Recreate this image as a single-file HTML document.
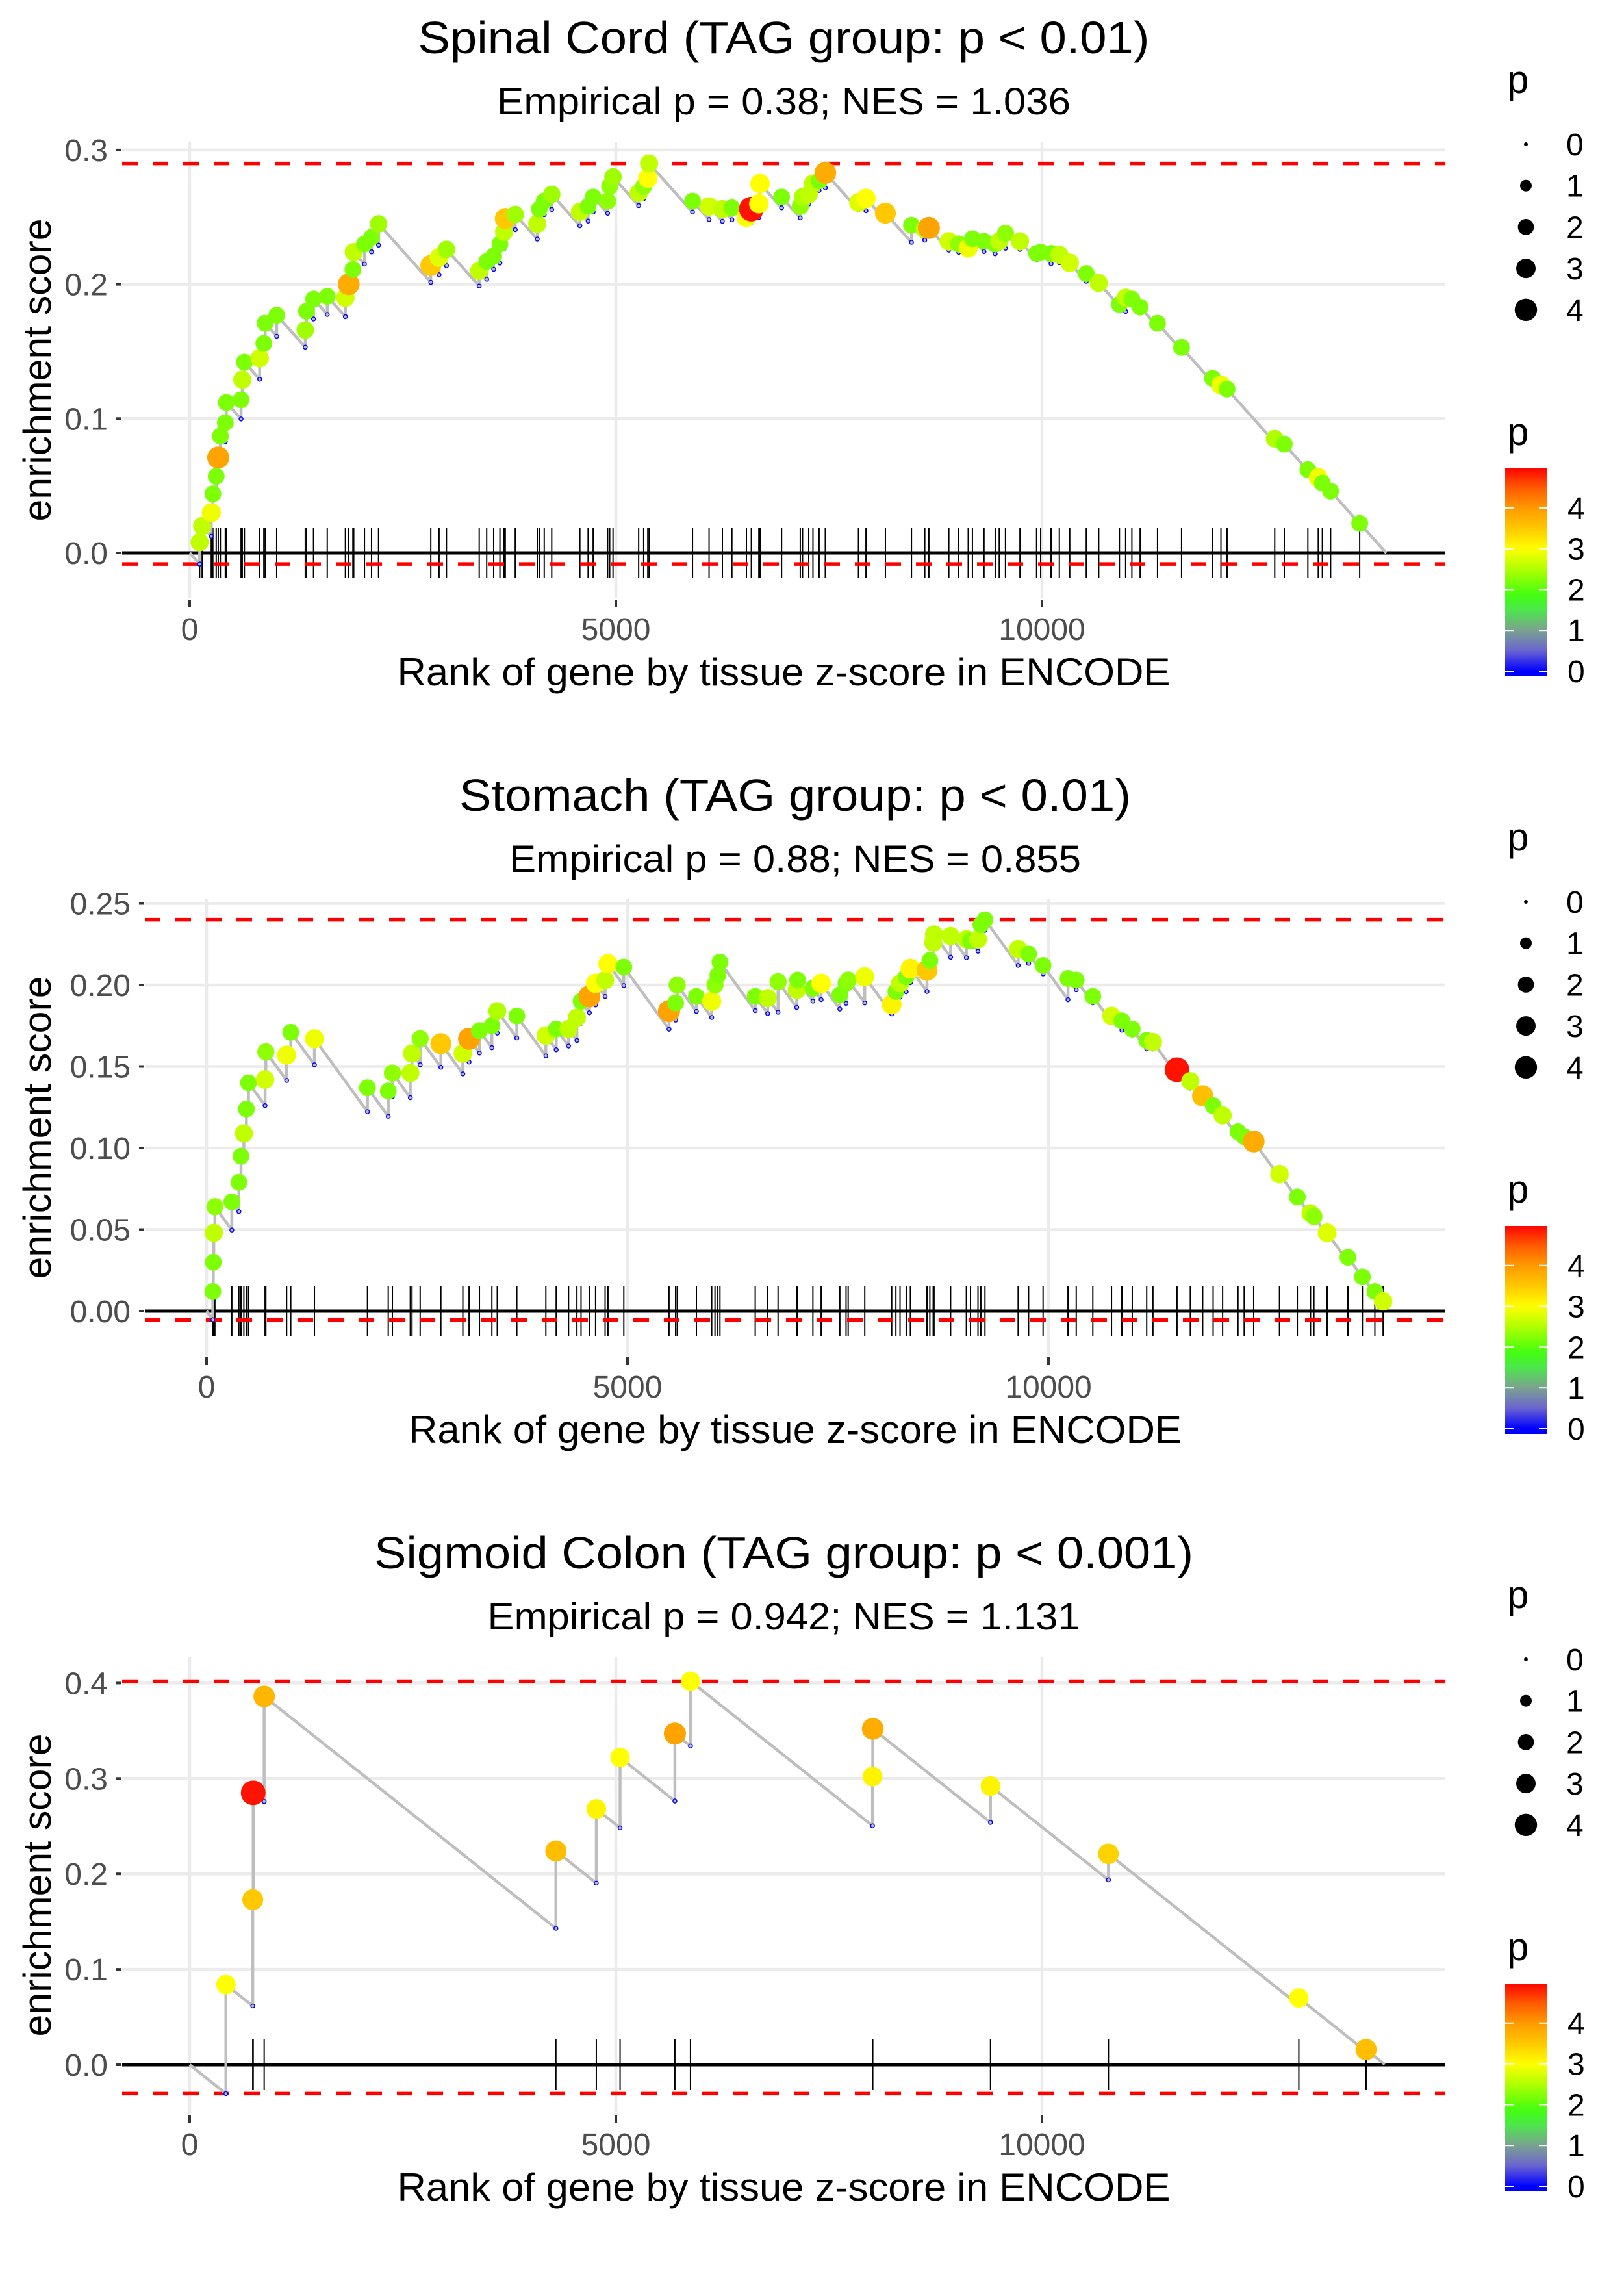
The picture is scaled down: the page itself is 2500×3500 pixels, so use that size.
<!DOCTYPE html>
<html><head><meta charset="utf-8"><style>
html,body{margin:0;padding:0;background:#fff;}
svg{display:block;font-family:"Liberation Sans",Arial,sans-serif;}
</style></head><body>
<svg id="chart" xmlns="http://www.w3.org/2000/svg" width="2500" height="3500" viewBox="0 0 2500 3500"></svg>
<script>
// ---------- Panel 1: Spinal Cord ----------
const p1Ranks=[117,146,253,272,311,335,360,418,430,603,617,642,821,870,885,1021,1356,1371,1453,1614,1827,1866,1915,1925,2051,2134,2216,2829,2926,3013,3397,3485,3567,3640,3689,3703,3820,4078,4102,4160,4248,4578,4675,4734,4904,4928,4967,5268,5327,5375,5390,5900,6094,6250,6362,6532,6590,6678,6692,6945,7164,7191,7264,7313,7385,7458,7847,7935,8163,8469,8625,8673,8907,9023,9135,9184,9320,9451,9499,9572,9742,9937,9985,10107,10204,10326,10520,10666,10909,10982,11055,11152,11356,11638,12002,12100,12172,12731,12843,13120,13242,13290,13387,13728];
const p1ES=[.008,.020,.030,.044,.057,.071,.087,.097,.112,.114,.129,.142,.145,.156,.171,.177,.166,.180,.189,.191,.190,.200,.211,.224,.230,.235,.245,.214,.220,.226,.210,.217,.221,.230,.239,.249,.252,.245,.256,.262,.267,.254,.258,.265,.262,.273,.280,.268,.273,.279,.290,.262,.258,.256,.257,.250,.256,.260,.275,.265,.258,.265,.267,.275,.277,.283,.261,.264,.253,.244,.241,.242,.232,.230,.227,.234,.232,.230,.232,.238,.232,.223,.224,.223,.222,.216,.208,.201,.185,.190,.189,.183,.171,.153,.130,.125,.122,.085,.081,.062,.056,.052,.046,.022];
const p1P=[2.6,2.6,2.9,2.2,2.2,3.9,2.2,2.2,2.2,2.2,2.6,2.2,2.7,2.2,2.2,2.2,2.4,2.2,2.2,2.2,2.7,3.8,2.2,2.6,2.2,2.2,2.4,3.5,2.8,2.4,2.6,2.2,2.2,2.2,2.6,3.5,2.4,2.6,2.2,2.2,2.4,2.6,2.2,2.2,2.3,2.3,2.4,2.6,2.3,3.0,2.6,2.2,2.7,2.6,2.2,3.0,4.9,3.0,3.0,2.2,2.3,2.5,2.6,2.6,2.2,3.8,2.8,3.0,3.5,2.2,2.6,3.9,2.7,2.3,2.9,2.2,2.2,2.2,2.6,2.3,2.6,2.2,2.2,2.2,2.6,2.7,2.2,2.6,2.2,2.6,2.2,2.2,2.2,2.2,2.2,2.9,2.2,2.5,2.2,2.2,2.9,2.2,2.2,2.2];
const p1End=14040;
const p1YTicks=[0,0.1,0.2,0.3];
const p1YLabels=["0.0","0.1","0.2","0.3"];
// ---------- Panel 2: Stomach ----------
const p2Ranks=[74,80,86,99,300,384,409,443,473,498,695,704,951,1000,1281,1911,2158,2207,2420,2440,2537,2783,3044,3118,3241,3389,3453,3685,4030,4153,4300,4399,4448,4547,4621,4734,4768,4956,5493,5571,5590,5818,6000,6039,6073,6098,6517,6665,6788,7010,7020,7202,7300,7522,7596,7621,7818,8138,8188,8237,8310,8360,8557,8591,8631,8641,8838,9025,9074,9163,9197,9246,9640,9764,9936,10232,10330,10527,10749,10872,10995,11167,11241,11527,11685,11832,11956,12069,12251,12325,12438,12744,12956,13113,13153,13310,13557,13729,13877,13975];
const p2ES=[.012,.030,.048,.064,.067,.079,.095,.109,.124,.140,.142,.159,.157,.171,.167,.137,.135,.146,.146,.158,.167,.164,.158,.167,.172,.175,.184,.181,.169,.173,.173,.180,.190,.193,.201,.203,.213,.211,.184,.189,.200,.193,.190,.200,.206,.214,.193,.192,.202,.197,.203,.198,.201,.194,.201,.203,.205,.188,.196,.201,.205,.210,.209,.215,.226,.231,.230,.228,.227,.228,.237,.240,.222,.219,.212,.204,.203,.193,.181,.178,.173,.166,.165,.148,.141,.132,.126,.120,.110,.107,.104,.084,.070,.060,.058,.048,.033,.021,.012,.006];
const p2P=[2.2,2.2,2.6,2.3,2.2,2.2,2.2,2.6,2.2,2.2,2.7,2.3,2.9,2.2,2.9,2.2,2.2,2.3,2.6,2.6,2.3,3.5,2.7,3.9,2.2,2.2,2.5,2.2,2.7,2.2,2.6,2.6,2.2,3.9,3.0,2.6,3.0,2.2,3.9,2.2,2.3,2.2,2.9,2.3,2.2,2.2,2.2,2.6,2.3,2.6,2.2,2.2,3.0,2.2,2.2,2.3,2.9,3.1,2.2,2.6,2.2,3.1,3.5,2.2,2.6,2.6,2.6,2.6,2.2,2.6,2.2,2.2,2.6,2.2,2.2,2.2,2.2,2.2,2.7,2.2,2.2,2.2,2.6,4.9,2.6,3.6,2.2,2.6,2.2,2.2,3.8,2.7,2.2,2.6,2.3,2.8,2.2,2.2,2.2,2.7];
const p2End=14024;
const p2YTicks=[0,0.05,0.10,0.15,0.20,0.25];
const p2YLabels=["0.00","0.05","0.10","0.15","0.20","0.25"];
// ---------- Panel 3: Sigmoid Colon ----------
const p3Ranks=[425,740,745,874,4297,4771,5050,5693,5876,8012,8015,9396,10780,13014,13803];
const p3ES=[.084,.173,.285,.386,.224,.268,.322,.347,.402,.302,.352,.292,.221,.070,.016];
const p3P=[3.0,3.5,4.9,3.7,3.6,3.1,3.0,3.9,3.0,3.1,3.8,3.1,3.4,3.0,3.6];
const p3End=14022;
const p3YTicks=[0,0.1,0.2,0.3,0.4];
const p3YLabels=["0.0","0.1","0.2","0.3","0.4"];
// shared
const missStep=7.1e-5;
const xTicks=[0,5000,10000];
const xTickLabels=["0","5000","10000"];
const pMax=4.9;
const legendSizes=[0,1,2,3,4];
const colorbarTicks=[0,1,2,3,4];

const NS="http://www.w3.org/2000/svg";
const svg=document.getElementById('chart');
function mk(tag,attrs,parent){const e=document.createElementNS(NS,tag);for(const k in attrs)e.setAttribute(k,attrs[k]);(parent||svg).appendChild(e);return e;}

const cStops=[[0,[0,0,255]],[0.5,[106,100,208]],[1,[123,162,143]],[1.5,[77,230,77]],[1.85,[64,255,16]],[2.5,[176,255,0]],[3,[255,255,0]],[3.5,[255,200,0]],[4,[255,154,0]],[4.5,[255,90,0]],[5,[255,0,0]]];
function pColor(p){
  if(p<=cStops[0][0])return 'rgb(0,0,255)';
  for(let i=1;i<cStops.length;i++){
    if(p<=cStops[i][0]){const a=cStops[i-1],b=cStops[i];const t=(p-a[0])/(b[0]-a[0]);
      const c=a[1].map((v,j)=>Math.round(v+(b[1][j]-v)*t));return 'rgb('+c.join(',')+')';}
  }
  return 'rgb(255,0,0)';
}
function pRadius(p){return Math.sqrt(9+352*p/pMax);}

function panel(cfg){
  const off=cfg.off;
  const g=mk('g',{});
  
  
  const L=cfg.left,R=2225,T=218+off,B=921+off;
  const sx=r=>cfg.x0+r*cfg.xs;
  const sy=v=>cfg.y0+off-v*cfg.ys;
  const t=mk('text',{x:(L+R)/2,y:82+off,'text-anchor':'middle','font-size':70,fill:'#000',textLength:cfg.tw,lengthAdjust:'spacingAndGlyphs'},g);
  t.textContent=cfg.title;
  
  
  const st=mk('text',{x:(L+R)/2,y:176+off,'text-anchor':'middle','font-size':58,fill:'#000',textLength:cfg.sw,lengthAdjust:'spacingAndGlyphs'},g);
  st.textContent=cfg.sub;
  
  
  cfg.yTicks.forEach((v,i)=>{
    const y=sy(v);
    const gl=mk('line',{x1:L,x2:R,y1:y,y2:y,stroke:'#ebebeb','stroke-width':4.5},g);
    
    
    const tk=mk('line',{x1:L-9,x2:L-2,y1:y,y2:y,stroke:'#333','stroke-width':4},g);
    
    
    const tl=mk('text',{x:L-22,y:y+17,'text-anchor':'end','font-size':48,fill:'#4d4d4d'},g);
    tl.textContent=cfg.yLabels[i];
    
    
  });
  xTicks.forEach((v,i)=>{
    const x=sx(v);
    const gl=mk('line',{x1:x,x2:x,y1:T,y2:B,stroke:'#ebebeb','stroke-width':4.5},g);
    
    
    const tk=mk('line',{x1:x,x2:x,y1:B+2,y2:B+14,stroke:'#333','stroke-width':4},g);
    
    
    const tl=mk('text',{x:x,y:985+off,'text-anchor':'middle','font-size':48,fill:'#4d4d4d'},g);
    tl.textContent=xTickLabels[i];
    
    
  });
  const xt=mk('text',{x:(L+R)/2,y:1055+off,'text-anchor':'middle','font-size':60,fill:'#000',textLength:1190,lengthAdjust:'spacingAndGlyphs'},g);
  xt.textContent='Rank of gene by tissue z-score in ENCODE';
  
  
  const yc=(T+B)/2;
  const yt=mk('text',{x:0,y:0,'text-anchor':'middle','font-size':60,fill:'#000',textLength:466,lengthAdjust:'spacingAndGlyphs',transform:'translate(78,'+yc+') rotate(-90)'},g);
  yt.textContent='enrichment score';
  
  
  const ranks=cfg.ranks,es=cfg.es,ps=cfg.p;
  let prevR=0,prevE=0;const valleys=[];
  let pts=[[sx(0),sy(0)]];
  for(let i=0;i<ranks.length;i++){
    const v=prevE-missStep*(ranks[i]-prevR);
    valleys.push(v);
    pts.push([sx(ranks[i]),sy(v)]);pts.push([sx(ranks[i]),sy(es[i])]);
    prevR=ranks[i];prevE=es[i];
  }
  pts.push([sx(cfg.end),sy(Math.max(0,prevE-missStep*(cfg.end-prevR)))]);
  const maxES=Math.max(...es),minES=Math.min(0,...valleys);
  ranks.forEach(r=>{
    const rl=mk('line',{x1:sx(r),x2:sx(r),y1:sy(0)-39,y2:sy(0)+39,stroke:'#000','stroke-width':2},g);
    
    
  });
  const zl=mk('line',{x1:L,x2:R,y1:sy(0),y2:sy(0),stroke:'#000','stroke-width':5},g);
  
  
  [maxES,minES].forEach((v,i)=>{
    const dl=mk('line',{x1:L,x2:R,y1:sy(v),y2:sy(v),stroke:'#ff0000','stroke-width':5.5,'stroke-dasharray':'24 23'},g);
    
    
  });
  const pl=mk('polyline',{points:pts.map(p=>p.join(',')).join(' '),fill:'none',stroke:'#bebebe','stroke-width':4.5,'stroke-linejoin':'round'},g);
  
  
  valleys.forEach((v,i)=>{
    const c=mk('circle',{cx:sx(ranks[i]),cy:sy(v),r:3,fill:'none',stroke:'#0000ff','stroke-width':1.5},g);
    
    
  });
  ranks.forEach((r,i)=>{
    const c=mk('ellipse',{cx:sx(r),cy:sy(es[i]),rx:pRadius(ps[i]),ry:pRadius(ps[i]),fill:pColor(ps[i])},g);
    
    
  });
  const lt=mk('text',{x:2320,y:143+off,'font-size':60,fill:'#000'},g);
  lt.textContent='p';
  
  
  legendSizes.forEach((s,i)=>{
    const y=222+off+i*63.7;
    const c=mk('circle',{cx:2349,cy:y,r:pRadius(s),fill:'#000'},g);
    
    
    const tl=mk('text',{x:2411,y:y+17,'font-size':48,fill:'#000'},g);
    tl.textContent=String(s);
    
    
  });
  const ct=mk('text',{x:2320,y:685+off,'font-size':60,fill:'#000'},g);
  ct.textContent='p';
  
  
  const gid='grad'+cfg.id;
  const defs=mk('defs',{},g);
  const lg=mk('linearGradient',{id:gid,x1:0,y1:1,x2:0,y2:0},defs);
  const vBot=-0.13,vTop=4.97;
  for(let k=0;k<=40;k++){const v=vBot+(vTop-vBot)*k/40;mk('stop',{offset:(k/40),'stop-color':pColor(v)},lg);}
  const bar=mk('rect',{x:2317,y:721+off,width:65,height:320,fill:'url(#'+gid+')'},g);
  
  
  colorbarTicks.forEach(v=>{
    const y=1033+off-v*62.8;
    mk('line',{x1:2317,x2:2330,y1:y,y2:y,stroke:'#fff','stroke-width':2},g);
    mk('line',{x1:2369,x2:2382,y1:y,y2:y,stroke:'#fff','stroke-width':2},g);
    const tl=mk('text',{x:2413,y:y+17,'font-size':48,fill:'#000'},g);
    tl.textContent=String(v);
    
    
  });
}
panel({id:1,name:'spinal-cord-panel',off:0,left:188,x0:292,xs:0.1312,y0:851,ys:2067,title:'Spinal Cord (TAG group: p < 0.01)',sub:'Empirical p = 0.38; NES = 1.036',tw:1126,sw:883,ranks:p1Ranks,es:p1ES,p:p1P,end:p1End,yTicks:p1YTicks,yLabels:p1YLabels});
panel({id:2,name:'stomach-panel',off:1166,left:223,x0:318,xs:0.1296,y0:852,ys:2510,title:'Stomach (TAG group: p < 0.01)',sub:'Empirical p = 0.88; NES = 0.855',tw:1034,sw:880,ranks:p2Ranks,es:p2ES,p:p2P,end:p2End,yTicks:p2YTicks,yLabels:p2YLabels});
panel({id:3,name:'sigmoid-colon-panel',off:2332,left:188,x0:292,xs:0.1312,y0:846,ys:1469,title:'Sigmoid Colon (TAG group: p < 0.001)',sub:'Empirical p = 0.942; NES = 1.131',tw:1261,sw:912,ranks:p3Ranks,es:p3ES,p:p3P,end:p3End,yTicks:p3YTicks,yLabels:p3YLabels});
</script>
</body></html>
